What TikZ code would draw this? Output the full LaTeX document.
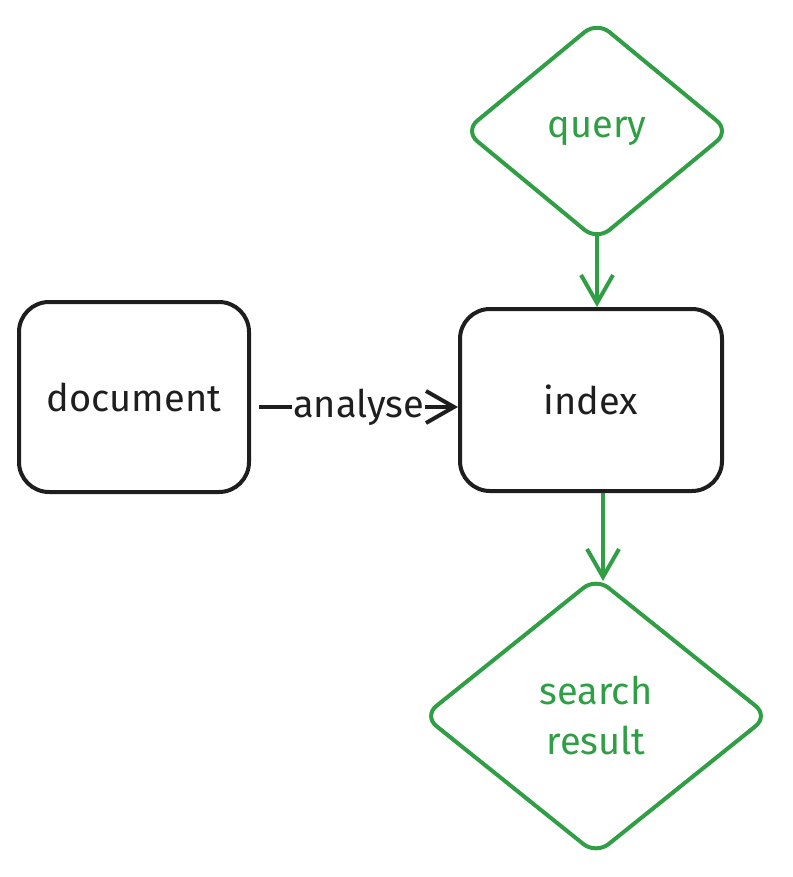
\documentclass[tikz,border=0pt]{standalone}
\usepackage{fontspec}
\setmainfont{Fira Sans}
\usetikzlibrary{arrows.meta,shapes.geometric}
\definecolor{inkblack}{HTML}{1E1E1E}
\definecolor{inkgreen}{HTML}{2F9E44}
\tikzset{
	box/.style={draw=inkblack, line width=4pt, rounded corners=30pt, inner sep=0pt, text=inkblack, font=\fontsize{38}{46}\selectfont},
	rhombus/.style={diamond, draw=inkgreen, line width=4pt, rounded corners=16pt, inner sep=0pt, text=inkgreen, align=center, font=\fontsize{38}{50}\selectfont},
	flow/.style={line width=4pt, -{Straight Barb[length=28pt,width=32pt]}},
}

\begin{document}
\begin{tikzpicture}[x=1pt, y=-1pt]
		%%%%% START %%%%%
		\useasboundingbox (0,0) rectangle (792,877);
		
		\node[box, minimum width=230pt, minimum height=190pt] (document) at (134,397) {document};
		\node[box, minimum width=262pt, minimum height=182pt] (index) at (591,400) {index};
		
		\node[rhombus, minimum width=266pt, minimum height=220pt] (query) at (597,131) {query};
		\node[rhombus, minimum width=346pt, minimum height=278pt] (result) at (596,716) {search\\result};
		
		\draw[flow, inkgreen] ([yshift=8pt]query.south) -- (query.south |- index.north);
		\draw[flow, inkgreen] ([xshift=12pt]index.south) -- ([xshift=12pt, yshift=-6pt]index.south |- result.north);
		\draw[flow, inkblack] ([xshift=8pt, yshift=-10pt]document.east) -- ([yshift=-7pt]index.west)
			node[midway, fill=white, inner sep=1pt, font=\fontsize{38}{46}\selectfont] (analyse) {analyse};
		%%%%% END %%%%%
\end{tikzpicture}
\end{document}
